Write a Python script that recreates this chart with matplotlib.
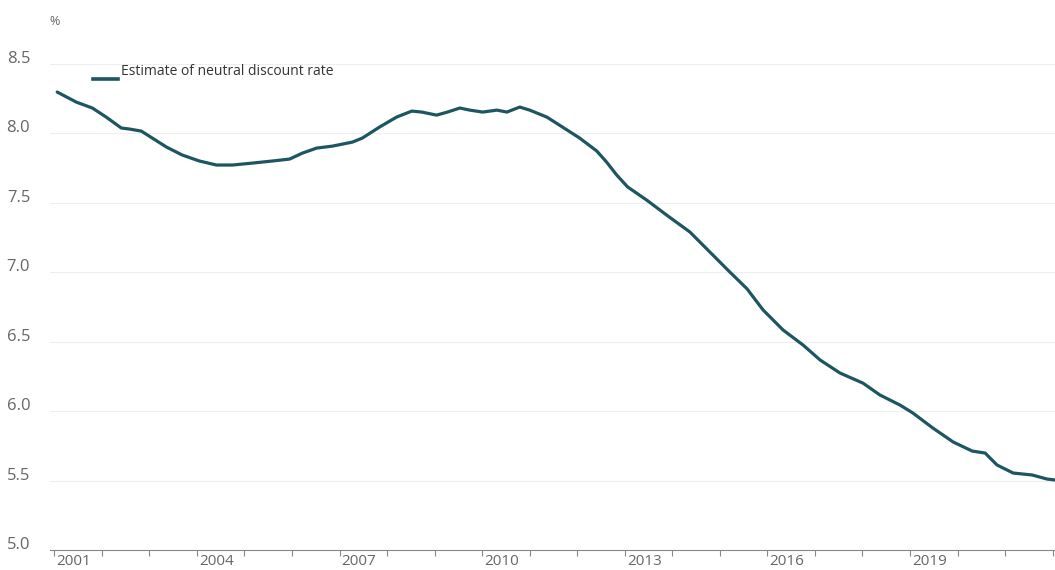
import matplotlib.pyplot as plt
import matplotlib.transforms as mtransforms
from matplotlib.lines import Line2D

# values (decimal year, %)
years = [2001.06, 2001.46, 2001.80, 2002.09, 2002.41, 2002.58, 2002.83, 2003.06,
         2003.36, 2003.69, 2004.05, 2004.41, 2004.75, 2005.17, 2005.59, 2005.95,
         2006.22, 2006.52, 2006.85, 2007.27, 2007.48, 2007.84, 2008.20, 2008.52,
         2008.73, 2009.04, 2009.27, 2009.53, 2009.74, 2010.01, 2010.31, 2010.52,
         2010.79, 2011.00, 2011.36, 2011.69, 2012.05, 2012.41, 2012.62, 2012.83,
         2013.06, 2013.46, 2013.88, 2014.37, 2014.79, 2015.21, 2015.57, 2015.91,
         2016.33, 2016.75, 2017.11, 2017.53, 2018.01, 2018.37, 2018.79, 2019.06,
         2019.48, 2019.91, 2020.31, 2020.58, 2020.83, 2021.17, 2021.57, 2021.88,
         2022.05]
rate = [8.295, 8.223, 8.180, 8.115, 8.036, 8.029, 8.014, 7.964,
        7.899, 7.842, 7.799, 7.770, 7.770, 7.784, 7.799, 7.813,
        7.856, 7.892, 7.906, 7.935, 7.964, 8.043, 8.115, 8.158,
        8.151, 8.129, 8.151, 8.180, 8.165, 8.151, 8.165, 8.151,
        8.187, 8.165, 8.115, 8.043, 7.964, 7.871, 7.790, 7.698,
        7.612, 7.518, 7.410, 7.288, 7.144, 7.000, 6.880, 6.727,
        6.583, 6.475, 6.367, 6.273, 6.201, 6.115, 6.043, 5.986,
        5.878, 5.777, 5.712, 5.698, 5.612, 5.554, 5.540, 5.511,
        5.504]

yticks = [5.0, 5.5, 6.0, 6.5, 7.0, 7.5, 8.0, 8.5]
xticks = list(range(2001, 2023))
xlabels = [str(y) if (y - 2001) % 3 == 0 and y < 2022 else '' for y in xticks]
legend_label = 'Estimate of neutral discount rate'

plt.rcParams['font.family'] = ['Open Sans', 'DejaVu Sans']
line_color = '#1d5660'

fig = plt.figure(figsize=(10.55, 5.70), dpi=100)
ax = fig.add_axes([0.047, 0.035, 0.953, 0.8535])

ax.plot(years, rate, color=line_color, lw=2.3, solid_capstyle='round',
        solid_joinstyle='round')

ax.set_xlim(2000.9, 2022.05)
ax.set_ylim(5.0, 8.5)

ax.set_yticks(yticks)
ax.set_yticklabels(['%.1f' % v for v in yticks], fontsize=12, color='#666666')
ax.tick_params(axis='y', length=0, pad=14)
offset = mtransforms.ScaledTranslation(0, 7 / 100, fig.dpi_scale_trans)
for lab in ax.get_yticklabels():
    lab.set_transform(lab.get_transform() + offset)

ax.set_xticks(xticks)
ax.set_xticklabels(xlabels, fontsize=11, color='#666666', ha='left')
ax.tick_params(axis='x', length=4, width=0.8, color='#888888', pad=-1, direction='out')
xoff = mtransforms.ScaledTranslation(2 / 100, 0, fig.dpi_scale_trans)
for lab in ax.get_xticklabels():
    lab.set_transform(lab.get_transform() + xoff)

ax.grid(axis='y', color='#eeeeee', lw=0.8)
ax.set_axisbelow(True)
for s in ['top', 'right', 'left']:
    ax.spines[s].set_visible(False)
ax.spines['bottom'].set_color('#888888')
ax.spines['bottom'].set_linewidth(0.8)

fig.text(0.047, 0.962, '%', fontsize=9, color='#666666', ha='left', va='center')

# legend: short line sitting a bit below the label, as in the original
fig.add_artist(Line2D([93 / 1055, 118 / 1055], [1 - 79 / 570, 1 - 79 / 570],
                     color=line_color, lw=2.6, transform=fig.transFigure))
fig.text(121 / 1055, 1 - 72 / 570, legend_label, fontsize=10, color='#333333',
         ha='left', va='center')

fig.savefig('out.png', dpi=100)
